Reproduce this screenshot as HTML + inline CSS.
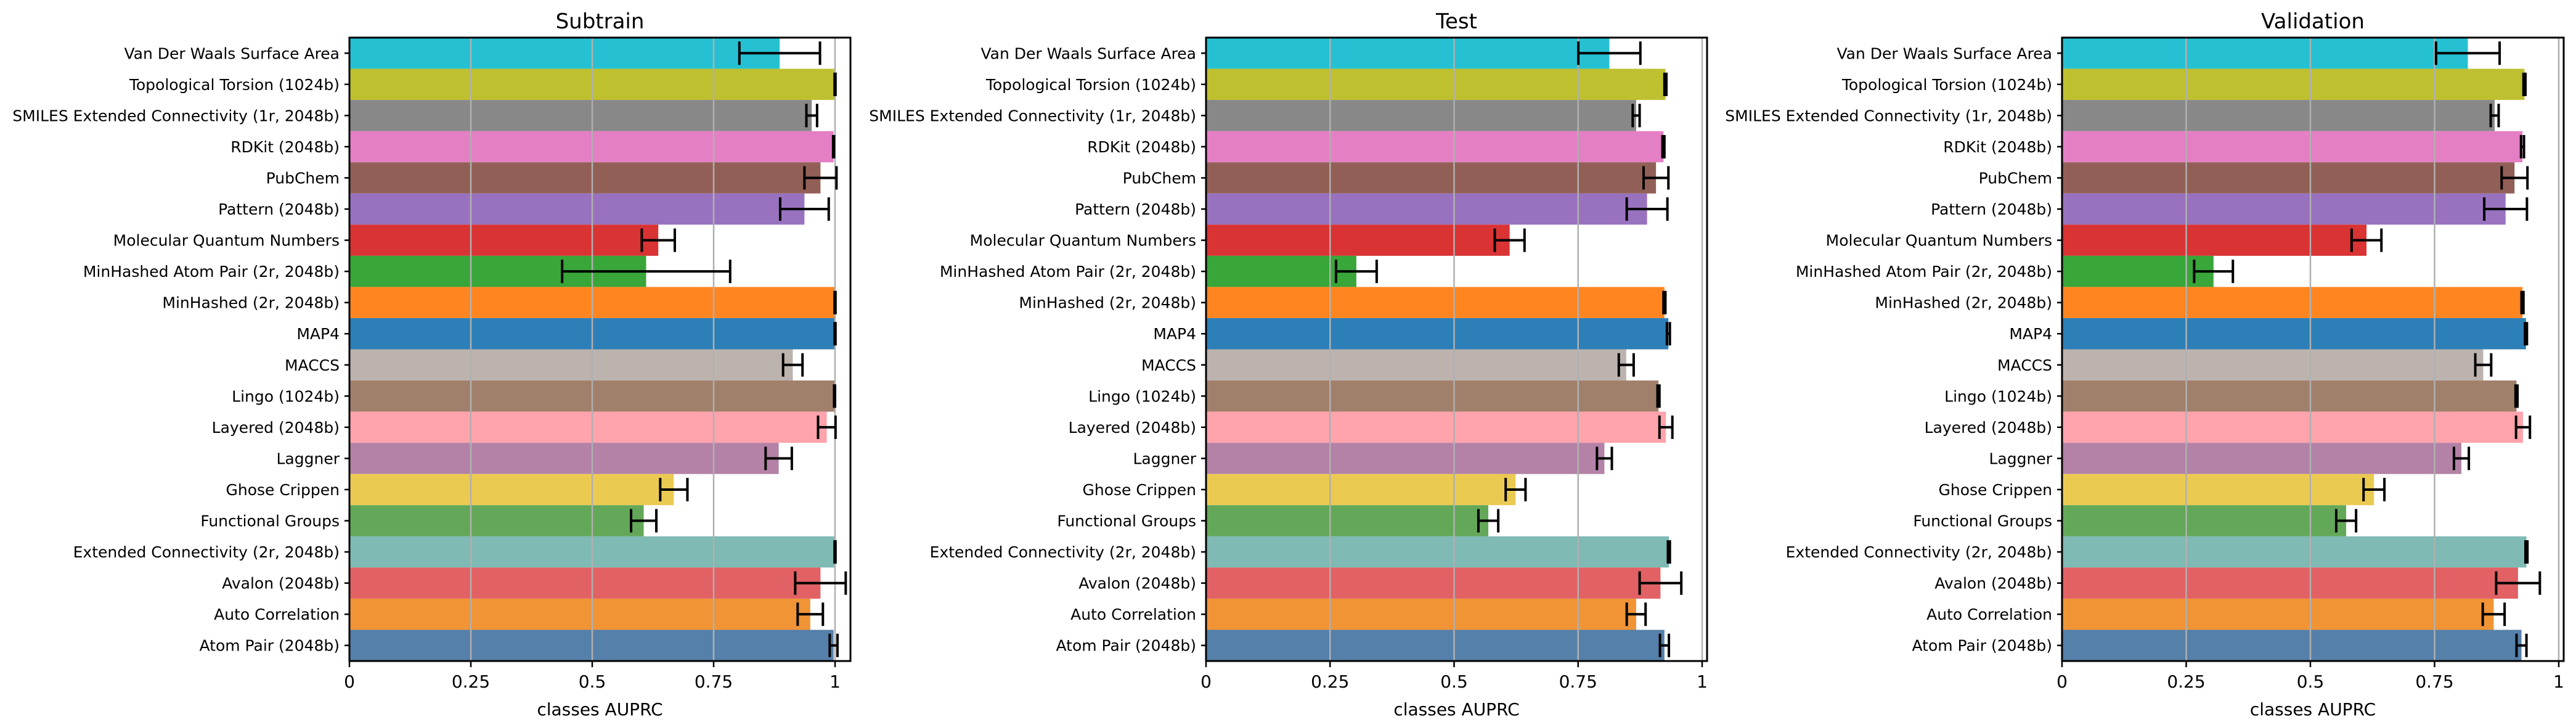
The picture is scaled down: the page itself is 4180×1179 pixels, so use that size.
<!DOCTYPE html>
<html><head><meta charset="utf-8"><style>
html,body{margin:0;padding:0;background:#fff;}
svg{display:block;font-family:"DejaVu Sans","Liberation Sans",sans-serif;}
</style></head><body>
<svg id="fig" width="4180" height="1179" viewBox="0 0 4180 1179" xmlns="http://www.w3.org/2000/svg"></svg>
<script>
const categories = ["Van Der Waals Surface Area","Topological Torsion (1024b)","SMILES Extended Connectivity (1r, 2048b)","RDKit (2048b)","PubChem","Pattern (2048b)","Molecular Quantum Numbers","MinHashed Atom Pair (2r, 2048b)","MinHashed (2r, 2048b)","MAP4","MACCS","Lingo (1024b)","Layered (2048b)","Laggner","Ghose Crippen","Functional Groups","Extended Connectivity (2r, 2048b)","Avalon (2048b)","Auto Correlation","Atom Pair (2048b)"];
const barColors = ["#25c1d3","#bfc02f","#888888","#e47fc4","#925f56","#9872bf","#d93334","#39a639","#ff8520","#2d7fb8","#bcb3ae","#a1806b","#ffa3ad","#b482a6","#ebca52","#63a858","#7fbab4","#e26164","#f09436","#5580aa"];
const subtrainValues = [0.886,1.0,0.952,0.997,0.970,0.937,0.636,0.611,1.0,1.0,0.913,0.999,0.983,0.884,0.668,0.606,1.0,0.970,0.949,0.997];
const subtrainErrors = [0.083,0.001,0.011,0.001,0.033,0.050,0.034,0.173,0.001,0.001,0.020,0.001,0.018,0.027,0.028,0.026,0.001,0.052,0.026,0.008];
const testValues = [0.813,0.926,0.867,0.922,0.907,0.889,0.612,0.303,0.924,0.932,0.847,0.912,0.927,0.803,0.624,0.569,0.933,0.916,0.867,0.924];
const testErrors = [0.0625,0.002,0.007,0.002,0.025,0.041,0.030,0.041,0.002,0.003,0.015,0.002,0.013,0.015,0.020,0.020,0.002,0.042,0.019,0.009];
const validationValues = [0.817,0.931,0.871,0.927,0.911,0.893,0.613,0.305,0.927,0.934,0.848,0.915,0.928,0.804,0.628,0.572,0.935,0.918,0.869,0.925];
const validationErrors = [0.064,0.002,0.008,0.003,0.026,0.043,0.030,0.039,0.002,0.002,0.016,0.002,0.014,0.015,0.021,0.020,0.002,0.044,0.022,0.010];
const xTicks = [0,0.25,0.5,0.75,1];
const xTickLabels = ["0","0.25","0.5","0.75","1"];

const panels = [
  {title:"Subtrain", vals:subtrainValues, errs:subtrainErrors, x0:567, x1:1355, right:1380, key:"subtrain"},
  {title:"Test", vals:testValues, errs:testErrors, x0:1957, x1:2762, right:2770, key:"test"},
  {title:"Validation", vals:validationValues, errs:validationErrors, x0:3346, x1:4152, right:4160, key:"validation"}
];
const TOP=61, BOT=1072;
const NS="http://www.w3.org/2000/svg";
const svg=document.getElementById('fig');
function mk(tag, attrs, parent){const e=document.createElementNS(NS,tag);for(const k in attrs)e.setAttribute(k,attrs[k]);(parent||svg).appendChild(e);return e;}

panels.forEach(p=>{
  const g=mk('g',{});
  
  
  const xs=v=>p.x0+(p.x1-p.x0)*v;
  const band=(BOT-TOP)/categories.length;
  const yc=i=>TOP+band*(i+0.5);
  categories.forEach((c,i)=>{
    const r=mk('rect',{x:p.x0,y:TOP+band*i,width:Math.max(0,xs(p.vals[i])-p.x0),height:band,fill:barColors[i]},g);
    
    
  });
  xTicks.forEach(t=>{
    const l=mk('line',{x1:xs(t),x2:xs(t),y1:TOP,y2:BOT,stroke:"#b0b0b0","stroke-width":2.5},g);
    
    
  });
  categories.forEach((c,i)=>{
    const v=p.vals[i], e=p.errs[i], y=yc(i);
    const eg=mk('g',{stroke:"#000","stroke-width":4},g);
    
    
    mk('line',{x1:xs(v-e),x2:xs(v+e),y1:y,y2:y},eg);
    mk('line',{x1:xs(v-e),x2:xs(v-e),y1:y-19,y2:y+19},eg);
    mk('line',{x1:xs(v+e),x2:xs(v+e),y1:y-19,y2:y+19},eg);
  });
  const fr=mk('rect',{x:p.x0,y:TOP,width:p.right-p.x0,height:BOT-TOP,fill:"none",stroke:"#000","stroke-width":3},g);
  
  
  categories.forEach((c,i)=>{
    const y=yc(i);
    mk('line',{x1:p.x0-8,x2:p.x0,y1:y,y2:y,stroke:"#000","stroke-width":2.5},g);
    const t=mk('text',{x:p.x0-16,y:y+9,"text-anchor":"end","font-size":25,fill:"#000"},g);
    t.textContent=c;
    
    
  });
  xTicks.forEach((tv,j)=>{
    mk('line',{x1:xs(tv),x2:xs(tv),y1:BOT,y2:BOT+10,stroke:"#000","stroke-width":2.5},g);
    const t=mk('text',{x:xs(tv),y:1115,"text-anchor":"middle","font-size":28,fill:"#000"},g);
    t.textContent=xTickLabels[j];
    
    
  });
  const cx=(p.x0+p.right)/2;
  const xl=mk('text',{x:cx,y:1160,"text-anchor":"middle","font-size":28,fill:"#000"},g);
  xl.textContent="classes AUPRC";
  
  
  const ti=mk('text',{x:cx,y:46,"text-anchor":"middle","font-size":34,fill:"#000"},g);
  ti.textContent=p.title;
  
  
});
</script>
</body></html>
